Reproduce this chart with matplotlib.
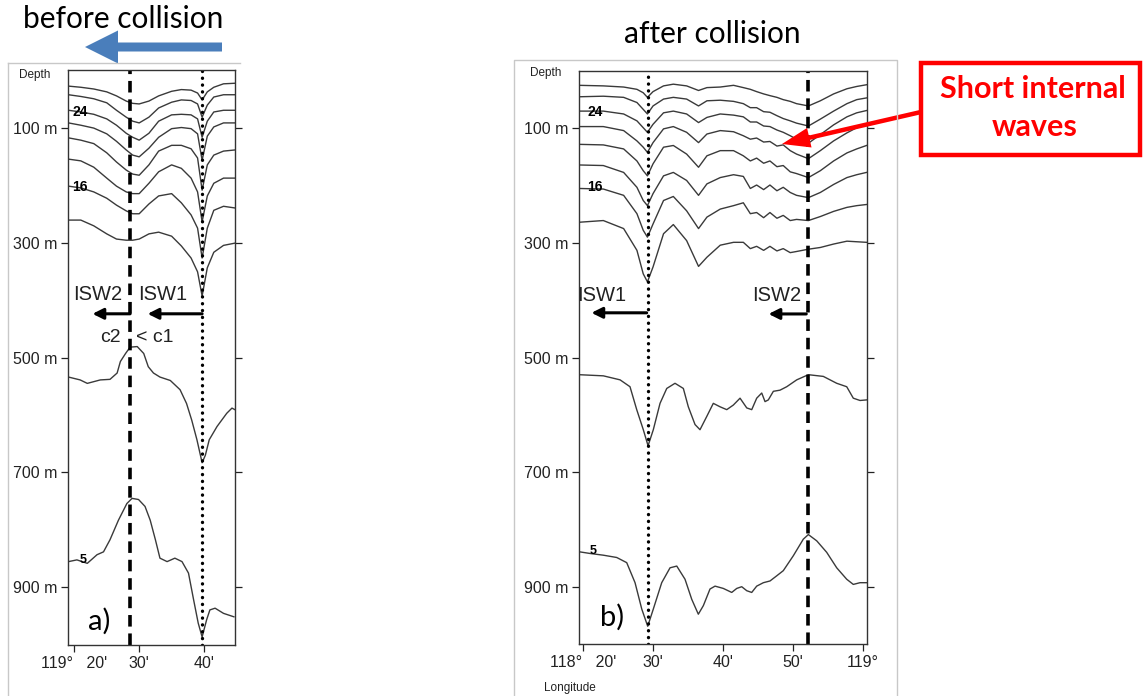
import matplotlib
matplotlib.use('Agg')
import matplotlib.pyplot as plt
from matplotlib.patches import FancyArrow

plt.rcParams['font.family'] = ['Liberation Sans', 'DejaVu Sans']

# ---- panel a (before collision): longitude in minutes past 119 E, depth in m
lon_a = [19.1, 21, 23, 25, 26.5, 28, 29, 30, 31.5, 33, 35, 36.5, 38, 39, 39.7, 40.5, 41.5, 43, 44.8]
iso_a = [
    [28, 30, 33, 38, 45, 54, 58, 59, 54, 45, 37, 34, 35, 40, 52, 38, 30, 24, 23],
    [43, 46, 50, 57, 70, 82, 89, 92, 82, 66, 56, 52, 53, 59, 82, 61, 47, 43, 43],
    [70, 73, 77, 85, 96, 110, 117, 122, 110, 89, 78, 77, 78, 85, 117, 89, 73, 70, 70],
    [92, 96, 101, 111, 124, 139, 148, 151, 136, 117, 102, 100, 102, 111, 157, 115, 99, 92, 92],
    [118, 122, 128, 144, 160, 174, 181, 183, 165, 141, 131, 131, 137, 153, 209, 165, 148, 141, 139],
    [155, 158, 169, 188, 202, 212, 215, 215, 197, 177, 165, 171, 188, 212, 264, 219, 197, 188, 188],
    [202, 205, 212, 223, 235, 245, 250, 250, 233, 219, 215, 231, 252, 275, 327, 275, 244, 237, 240],
    [261, 261, 271, 285, 294, 296, 296, 294, 285, 282, 289, 306, 327, 351, 393, 344, 317, 305, 301],
]
lon_a500 = [19.1, 20.9, 22.0, 24.0, 25.5, 26.6, 27.1, 27.9, 28.6, 29.7, 30.7, 31.4, 32.2, 33.2,
            34.8, 36.3, 37.3, 38.1, 38.9, 39.7, 40.2, 40.8, 42.0, 43.5, 44.3, 44.8]
dep_a500 = [534, 539, 545, 539, 538, 527, 507, 493, 482, 481, 493, 516, 527, 534,
            540, 556, 580, 609, 643, 683, 670, 643, 620, 597, 588, 591]
lon_a5 = [19.1, 20.4, 22.0, 23.5, 24.5, 25.5, 26.8, 28.1, 28.9, 29.9, 30.9, 31.7, 32.5, 33.2,
          34.3, 35.5, 36.6, 37.6, 38.4, 39.1, 39.7, 40.4, 40.9, 41.7, 43.0, 44.6]
dep_a5 = [855, 852, 858, 843, 838, 817, 783, 754, 745, 747, 759, 783, 817, 849,
          855, 849, 855, 875, 922, 962, 986, 956, 939, 936, 945, 951]
isw_a = {'ISW2': 28.6, 'ISW1': 39.7}

# ---- panel b (after collision): longitude in minutes past 118 E, depth in m
lon_b = [19.4, 22.9, 25.8, 27.7, 28.6, 29.2, 30.0, 31.5, 32.9, 34.8, 36.5, 37.7, 39.6, 41.5, 42.9,
         43.9, 44.8, 45.8, 46.7, 47.7, 48.6, 49.6, 50.5, 52.2, 53.9, 55.8, 57.7, 59.1, 60.5]
iso_b = [
    [25, 26, 28, 32, 38, 46, 36, 26, 23, 26, 34, 29, 28, 25, 29, 32, 36, 40, 43, 46, 50, 53, 57, 61, 52, 40, 31, 27, 24],
    [45, 44, 46, 55, 67, 75, 61, 49, 46, 49, 61, 52, 51, 53, 57, 64, 64, 71, 72, 78, 83, 87, 91, 96, 84, 70, 57, 50, 47],
    [70, 70, 75, 87, 99, 107, 93, 73, 70, 75, 90, 81, 75, 77, 80, 89, 89, 96, 97, 103, 107, 113, 119, 126, 111, 94, 80, 73, 69],
    [97, 97, 104, 122, 133, 142, 125, 101, 97, 107, 125, 110, 104, 106, 113, 119, 117, 124, 123, 131, 129, 139, 145, 153, 139, 122, 108, 99, 94],
    [128, 129, 136, 157, 174, 183, 162, 133, 130, 145, 168, 148, 139, 139, 148, 157, 152, 161, 157, 167, 165, 176, 179, 186, 174, 157, 143, 136, 130],
    [164, 165, 177, 203, 226, 235, 214, 183, 177, 191, 217, 197, 186, 181, 184, 205, 199, 207, 199, 209, 203, 212, 217, 221, 212, 198, 186, 181, 177],
    [205, 206, 217, 249, 278, 290, 267, 226, 219, 244, 275, 255, 241, 235, 230, 249, 247, 256, 247, 257, 252, 261, 259, 261, 254, 245, 238, 235, 233],
    [264, 261, 275, 313, 354, 368, 342, 284, 268, 296, 341, 325, 304, 299, 299, 310, 306, 313, 306, 314, 310, 317, 315, 311, 308, 302, 297, 298, 299],
]
lon_b500 = [19.43, 22.9, 25.29, 26.71, 27.67, 28.61, 29.29, 30.04, 31.0, 31.96, 33.14, 34.33, 35.04,
            36.0, 36.71, 37.67, 38.61, 39.57, 40.53, 41.47, 42.43, 43.39, 44.1, 44.81, 45.53, 46.0,
            46.47, 47.19, 48.14, 49.1, 50.53, 52.19, 54.33, 56.24, 57.67, 58.61, 59.57, 60.53]
dep_b500 = [530, 532, 539, 551, 591, 626, 654, 626, 580, 554, 545, 554, 586,
            617, 626, 603, 580, 586, 591, 583, 571, 588, 591, 571, 562, 577,
            574, 559, 557, 551, 539, 530, 533, 545, 551, 571, 575, 574]
lon_b5 = [19.43, 21.0, 22.9, 24.81, 26.24, 27.43, 28.39, 29.24, 30.04, 31.24, 32.43, 33.39, 34.57,
          35.53, 36.47, 37.19, 38.14, 38.86, 40.04, 41.24, 41.96, 42.67, 43.39, 44.1, 44.81, 45.76,
          46.71, 47.67, 48.61, 50.04, 51.47, 52.19, 53.39, 54.81, 56.24, 57.67, 58.61, 59.57, 60.53]
dep_b5 = [839, 842, 845, 849, 858, 893, 939, 969, 939, 893, 867, 864, 887,
          922, 948, 933, 904, 899, 903, 910, 903, 900, 907, 910, 899, 893,
          890, 881, 872, 846, 817, 809, 820, 840, 867, 887, 896, 893, 893]
isw_b = {'ISW1': 29.24, 'ISW2': 52.19}

yticks = [100, 300, 500, 700, 900]
curve_col = '#3a3a3a'


def style_axes(ax, xlim, xticks, xlabels):
    ax.set_xlim(xlim)
    ax.set_ylim(1000, 0)
    ax.set_yticks(yticks)
    ax.set_yticklabels(['{0} m'.format(d) for d in yticks])
    ax.set_xticks(xticks)
    ax.set_xticklabels(xlabels)
    ax.tick_params(direction='out', length=5, width=0.9, right=True, labelsize=11.5,
                   colors='#222222', pad=3)
    for s in ax.spines.values():
        s.set_linewidth(1.0)
        s.set_color('#333333')


def draw_curves(ax, lon, curves, extra):
    for c in curves:
        ax.plot(lon, c, color=curve_col, lw=1.0)
    for x, y in extra:
        ax.plot(x, y, color=curve_col, lw=1.0)


def vline(ax, x, kind):
    if kind == 'dash':
        ax.axvline(x, color='k', lw=2.6, linestyle=(0, (3.2, 1.9)))
    else:
        ax.axvline(x, color='k', lw=2.4, linestyle=(0, (0.05, 2.0)), dash_capstyle='round')


def isw_arrow(ax, x0, x1, y, label, lx):
    ax.annotate('', xy=(x1, y), xytext=(x0, y),
                arrowprops=dict(arrowstyle='-|>', color='k', lw=2.2, mutation_scale=16,
                                shrinkA=0, shrinkB=0))
    ax.text(lx, 391, label, fontsize=14.5, ha='center', va='center', color='#222222')


fig = plt.figure(figsize=(11.43, 6.96), dpi=100)
ax_a = fig.add_axes([0.0598, 0.0733, 0.1458, 0.8261])
ax_b = fig.add_axes([0.5066, 0.0747, 0.2517, 0.8233])

# panel a
draw_curves(ax_a, lon_a, iso_a, [(lon_a500, dep_a500), (lon_a5, dep_a5)])
vline(ax_a, isw_a['ISW2'], 'dash')
vline(ax_a, isw_a['ISW1'], 'dot')
style_axes(ax_a, (19.08, 44.77), [20, 30, 40], ["119°   20'", "30'", "40'"])
isw_arrow(ax_a, isw_a['ISW2'], 22.8, 424, 'ISW2', 23.6)
isw_arrow(ax_a, isw_a['ISW1'], 31.3, 424, 'ISW1', 33.6)
ax_a.text(25.6, 466, 'c2', fontsize=14, ha='center', va='center', color='#222222')
ax_a.text(32.4, 466, '< c1', fontsize=14, ha='center', va='center', color='#222222')
ax_a.text(23.8, 958, 'a)', fontsize=21, ha='center', va='center', family='Lato')
for lbl, x, y, fs in [('24', 20.9, 73, 10), ('16', 20.9, 204, 10), ('5', 21.3, 853, 9)]:
    ax_a.text(x, y, lbl, fontsize=fs, fontweight='bold', ha='center', va='center')

# panel b
draw_curves(ax_b, lon_b, iso_b, [(lon_b500, dep_b500), (lon_b5, dep_b5)])
vline(ax_b, isw_b['ISW1'], 'dot')
vline(ax_b, isw_b['ISW2'], 'dash')
style_axes(ax_b, (19.43, 60.53), [20, 30, 40, 50, 60], ["118°   20'", "30'", "40'", "50'", "119°"])
isw_arrow(ax_b, isw_b['ISW1'] - 0.15, 21.2, 422, 'ISW1', 22.7)
isw_arrow(ax_b, isw_b['ISW2'] - 0.3, 46.5, 424, 'ISW2', 47.7)
ax_b.text(24.2, 953, 'b)', fontsize=21, ha='center', va='center', family='Lato')
for lbl, x, y, fs in [('24', 21.8, 71, 10), ('16', 21.7, 203, 10), ('5', 21.4, 838, 9)]:
    ax_b.text(x, y, lbl, fontsize=fs, fontweight='bold', ha='center', va='center')

# overlay in pixel units for frames, titles, callouts
ov = fig.add_axes([0, 0, 1, 1], zorder=10)
ov.set_xlim(0, 1143)
ov.set_ylim(696, 0)
ov.axis('off')
ov.patch.set_alpha(0)

gray = '#c8c8c8'
ov.plot([8, 8], [63, 696], color=gray, lw=1)
ov.plot([8, 240], [63, 63], color=gray, lw=1)
ov.plot([514, 514, 897, 897], [696, 60, 60, 696], color=gray, lw=1)

ov.text(35, 75, 'Depth', fontsize=8.5, ha='center', va='center', color='#222222')
ov.text(546, 73, 'Depth', fontsize=8.5, ha='center', va='center', color='#222222')
ov.text(570, 688, 'Longitude', fontsize=8.5, ha='center', va='center', color='#222222')

ov.text(123, 19, 'before collision', fontsize=21.5, ha='center', va='center', family='Lato')
ov.text(712, 34, 'after collision', fontsize=21.5, ha='center', va='center', family='Lato')
ov.add_patch(FancyArrow(222, 47, -137, 0, width=9, head_width=33, head_length=33,
                        length_includes_head=True, color='#4a7ebb', lw=0))

ov.add_patch(plt.Rectangle((921, 63), 219, 92, fill=False, edgecolor='#ff0000', lw=3.2))
ov.text(1033, 89, 'Short internal', fontsize=22, fontweight='bold', color='#ff0000',
        ha='center', va='center', family='Lato')
ov.text(1035, 127, 'waves', fontsize=22, fontweight='bold', color='#ff0000',
        ha='center', va='center', family='Lato')
ov.add_patch(FancyArrow(921, 112, -139, 32, width=4.5, head_width=20, head_length=28,
                        length_includes_head=True, color='#ff0000', lw=0))

fig.savefig('out.png', dpi=100)
